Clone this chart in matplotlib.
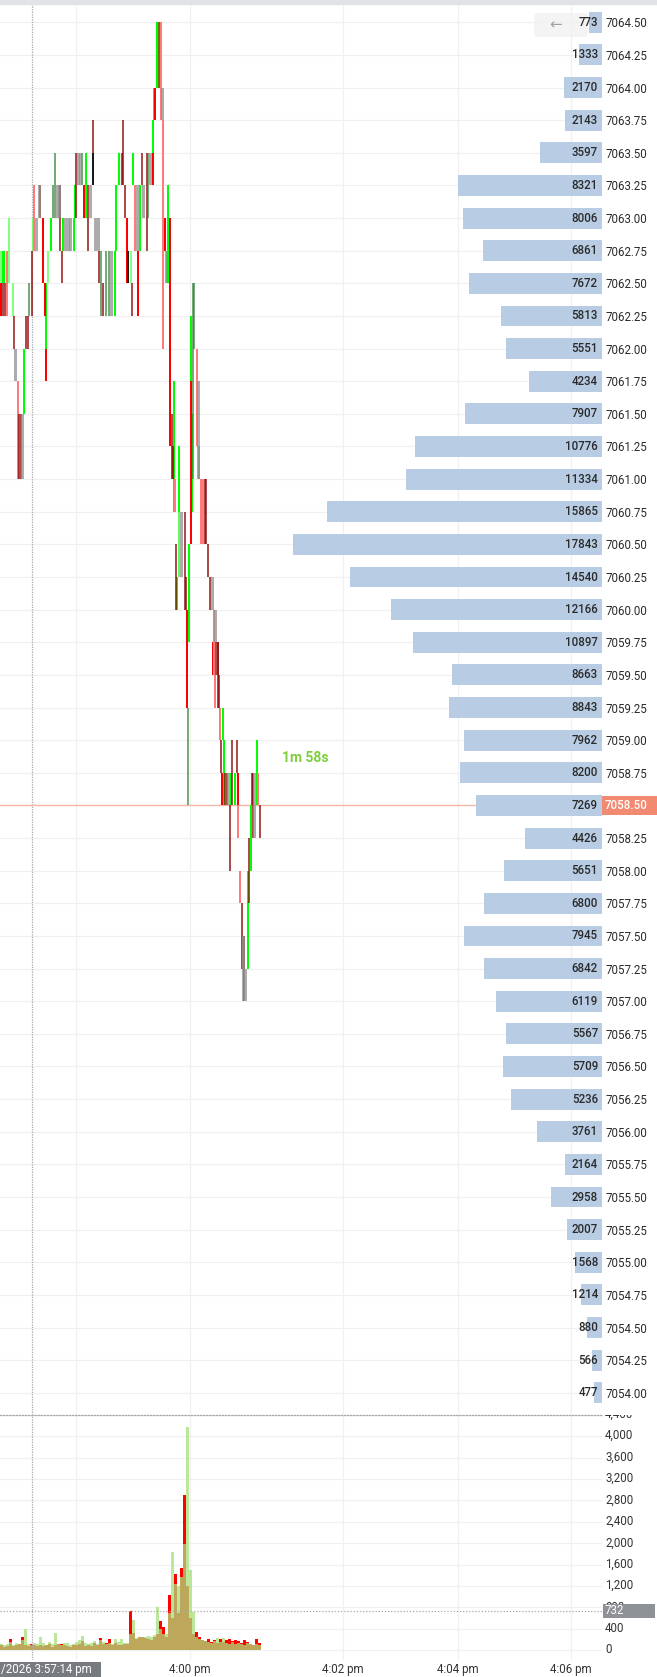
import numpy as np
import matplotlib
matplotlib.use('Agg')
import matplotlib.pyplot as plt
from matplotlib.patches import Rectangle, FancyBboxPatch
from matplotlib.transforms import blended_transform_factory

plt.rcParams['font.family'] = ['Roboto', 'DejaVu Sans']

W, H = 657, 1677          # output size in px
PLOT_R = 602              # right edge of the plotting area (px)

# price ladder (top -> bottom) and volume at price
levels = [7064.50 - 0.25 * i for i in range(43)]
level_vol = [773, 1333, 2170, 2143, 3597, 8321, 8006, 6861, 7672, 5813, 5551,
             4234, 7907, 10776, 11334, 15865, 17843, 14540, 12166, 10897, 8663,
             8843, 7962, 8200, 7269, 4426, 5651, 6800, 7945, 6842, 6119, 5567,
             5709, 5236, 3761, 2164, 2958, 2007, 1568, 1214, 880, 566, 477]
last_price = 7058.50
timer_text = '1m 58s'

# tick bars: x position (px along the time axis), low, high, colour kind
bar_x = [0.7, 0.7, 2.7, 2.7, 4.0, 5.3, 6.7, 9.3, 12.7, 14.0, 15.3, 17.7, 19.0, 21.0, 22.5,
         24.3, 26.0, 28.3, 29.3, 31.7, 33.3, 34.3, 36.0, 39.0, 40.0, 43.3, 45.0, 46.3, 46.3,
         48.3, 50.7, 53.3, 55.0, 57.0, 59.0, 60.0, 62.3, 63.3, 65.5, 68.0, 70.5, 74.0, 75.0,
         76.0, 78.0, 80.0, 81.5, 84.0, 86.0, 88.3, 90.0, 92.7, 93.3, 95.5, 98.0, 99.3,
         101.0, 103.3, 106.0, 109.0, 111.5, 115.0, 116.0, 119.3, 121.7, 122.7, 125.0, 126.7,
         128.3, 131.0, 132.0, 133.3, 135.0, 137.0, 138.3, 140.0, 141.7, 143.3, 146.7, 148.3,
         150.5, 152.7, 153.3, 154.3, 155.0, 156.7, 158.0, 159.3, 160.7, 162.7, 163.3, 165.0,
         166.7, 166.7, 168.3, 170.0,
         171.5, 172.7, 174.0, 175.0, 176.0, 176.7, 178.5, 179.3, 181.5, 185.0, 186.0, 187.3,
         188.0, 189.3, 190.7, 191.3, 191.7, 192.7, 194.0, 196.7, 198.3, 199.3, 200.5, 202.5,
         205.0, 206.0, 208.3, 210.0, 212.7, 213.3, 214.0, 215.0, 215.0, 216.0, 217.5, 218.3,
         219.0, 220.0,
         221.0, 222.0, 223.3, 224.3, 225.0, 226.7, 228.3, 230.0, 231.0, 232.3, 235.0, 236.7,
         237.7, 237.7, 240.0, 241.7, 243.0, 244.3, 245.7, 247.7, 249.0, 251.0, 251.7, 253.0,
         254.0, 256.7, 258.3, 260.0]
bar_lo = [7062.50, 7062.25, 7062.25, 7062.50, 7062.50, 7062.25, 7062.25, 7062.50, 7062.25,
          7062.00, 7061.75, 7061.00, 7061.00, 7061.00, 7061.00, 7061.50, 7062.00, 7062.00,
          7062.25, 7062.25, 7062.75, 7062.75, 7062.75, 7063.00, 7063.00, 7062.50, 7062.25,
          7062.00, 7061.75, 7062.50, 7062.75, 7063.00, 7063.00, 7063.00, 7063.00, 7062.75,
          7062.50, 7062.75, 7062.75, 7062.75, 7062.75, 7062.75, 7063.00, 7063.00, 7063.25,
          7063.25, 7063.25, 7063.00, 7063.00, 7062.75, 7063.00, 7063.25, 7063.25, 7062.75,
          7062.75, 7062.50,
          7062.25, 7062.25, 7062.25, 7062.25, 7062.25, 7062.25, 7062.75, 7063.25, 7063.25,
          7063.25, 7063.00, 7062.50, 7062.50, 7062.50, 7062.25, 7063.25, 7062.75, 7062.75,
          7062.25, 7062.75, 7063.25, 7063.00, 7062.75, 7063.00, 7063.25, 7063.50, 7063.25,
          7063.75, 7063.75, 7064.00, 7064.00, 7064.00, 7063.75, 7063.75, 7062.00, 7062.75,
          7062.50, 7062.50, 7062.50, 7061.25,
          7061.00, 7061.00, 7060.75, 7060.75, 7060.00, 7060.00, 7060.25, 7060.25, 7060.25,
          7060.00, 7060.00, 7059.25, 7058.50, 7059.75, 7061.25, 7060.50, 7060.75, 7061.00,
          7062.00, 7061.25, 7061.00, 7061.00, 7060.50, 7060.50, 7060.50, 7060.50, 7060.25,
          7060.00, 7060.00, 7059.50, 7059.50, 7059.25, 7059.75, 7059.50, 7059.50, 7059.25,
          7059.25, 7059.00,
          7058.75, 7058.50, 7059.00, 7058.50, 7058.50, 7058.50, 7058.50, 7058.00, 7058.50,
          7058.50, 7058.50, 7058.75, 7058.50, 7058.25, 7057.75, 7057.25, 7057.00, 7057.00,
          7057.00, 7057.25, 7057.75, 7058.00, 7058.50, 7058.25, 7058.25, 7058.50, 7058.50,
          7058.25]
bar_hi = [7062.75, 7062.50, 7062.50, 7062.75, 7062.75, 7062.50, 7062.75, 7063.00, 7062.50,
          7062.25, 7062.00, 7061.75, 7061.50, 7061.50, 7061.50, 7062.00, 7062.25, 7062.25,
          7062.50, 7062.75, 7063.00, 7063.25, 7063.00, 7063.25, 7063.25, 7063.00, 7062.50,
          7062.50, 7062.00, 7062.75, 7063.00, 7063.25, 7063.50, 7063.25, 7063.25, 7063.25,
          7062.75, 7063.00, 7063.00, 7063.00, 7063.00, 7063.00, 7063.25, 7063.50, 7063.50,
          7063.50, 7063.50, 7063.25, 7063.50, 7063.25, 7063.25, 7063.50, 7063.75, 7063.00,
          7063.00, 7062.75,
          7062.75, 7062.50, 7062.75, 7062.75, 7062.75, 7062.75, 7063.25, 7063.50, 7063.50,
          7063.75, 7063.25, 7063.00, 7062.75, 7062.75, 7062.50, 7063.50, 7063.25, 7063.25,
          7062.75, 7063.25, 7063.50, 7063.25, 7063.50, 7063.50, 7063.50, 7063.75, 7063.50,
          7064.00, 7064.00, 7064.50, 7064.50, 7064.50, 7064.50, 7064.00, 7063.75, 7063.00,
          7062.75, 7062.75, 7063.25, 7063.00,
          7061.50, 7061.25, 7061.75, 7061.00, 7060.50, 7060.25, 7060.75, 7061.25, 7060.75,
          7060.75, 7060.25, 7060.00, 7059.25, 7060.50, 7062.25, 7061.75, 7061.50, 7062.50,
          7062.50, 7062.00, 7061.75, 7061.25, 7061.00, 7061.00, 7061.00, 7061.00, 7060.50,
          7060.25, 7060.25, 7059.75, 7060.00, 7059.50, 7060.00, 7059.75, 7059.75, 7059.75,
          7059.50, 7059.25,
          7059.00, 7058.75, 7059.25, 7059.00, 7058.75, 7058.75, 7058.75, 7058.50, 7058.75,
          7059.00, 7058.75, 7059.00, 7058.75, 7058.50, 7058.00, 7057.75, 7057.50, 7057.50,
          7057.25, 7058.00, 7058.25, 7058.50, 7058.75, 7058.75, 7058.75, 7059.00, 7058.75,
          7058.50]
bar_kind = list('gRDGGDrggDSrDDSGDDdDgrSSDRRGRgGddSSDDGSSSGGDSSdRGDSKDSSD'
                'dDddSGGGDDDRKgDGrSRGDSDdSGRGRGSOrSrRSGGR'
                'DDGrDGgGSDDRdGGRGddrSdrrDDDDSRrrSDDDDr'
                'DRGGDDSDGDGDRrrDSDSGDGDDSGrD')

# volume pane: bar positions along the time axis and buy / sell volume
vol_x = [1.5 + 3 * i for i in range(87)]
vol_up = [120, 90, 110, 150, 100, 130, 110, 180, 385, 120,
          90, 140, 110, 250, 130, 100, 150, 120, 320, 110,
          100, 140, 130, 100, 120, 150, 180, 260, 140, 110,
          130, 160, 120, 180, 150, 110, 140, 120, 200, 150,
          205, 140, 130, 300, 560, 230, 250, 240, 250, 260,
          250, 280, 810, 400, 300, 300, 700, 1830, 1240, 1200,
          1370, 1990, 4180, 1500, 720, 250, 200, 180, 160, 150,
          140, 170, 220, 150, 220, 130, 120, 150, 110, 140,
          120, 100, 130, 110, 90, 120, 100]
vol_dn = [100, 60, 80, 200, 70, 90, 120, 250, 100, 80,
          110, 90, 70, 100, 80, 90, 110, 60, 100, 120,
          110, 90, 80, 60, 100, 90, 120, 160, 70, 90,
          80, 130, 100, 220, 110, 140, 200, 100, 130, 90,
          100, 120, 110, 730, 310, 200, 240, 250, 230, 200,
          180, 250, 300, 545, 435, 250, 1030, 600, 1420, 700,
          1530, 2900, 1200, 600, 300, 340, 250, 190, 170, 200,
          150, 190, 140, 200, 150, 180, 200, 170, 190, 160,
          140, 180, 150, 120, 100, 200, 130]
vol_ticks = list(range(0, 4401, 400))
cross_vol = 732

# time axis (the 3:58 pm label sits under the crosshair box)
time_pos = [76, 190, 343, 458, 571]
time_labels = ['', '4:00 pm', '4:02 pm', '4:04 pm', '4:06 pm']
cross_x = 31.7
cross_label = '/2026 3:57:14 pm'

kind_style = {
    'G': ('#00ff00', 1.0, 2.0), 'g': ('#6dff6d', 0.85, 2.0),
    'R': ('#ff0000', 1.0, 2.0), 'r': ('#ff7b7b', 1.0, 2.0),
    'D': ('#8b0000', 0.7, 2.0), 'd': ('#2e7d32', 0.65, 2.0),
    'S': ('#909090', 0.75, 3.0), 'K': ('#1a1a1a', 1.0, 2.0),
    'O': ('#7a6a10', 1.0, 2.0),
}
GRID = '#f0f0f0'
TXT = '#2a2a2a'
FS = 8.3


def rect(x0, y0, x1, y1):
    return [x0 / W, 1 - y1 / H, (x1 - x0) / W, (y1 - y0) / H]


fig = plt.figure(figsize=(W / 100, H / 100), dpi=100)
fig.patch.set_facecolor('white')
fig.patches.append(Rectangle((0, 1 - 4 / H), 1, 4 / H, transform=fig.transFigure,
                             color='#e1e3e6', zorder=3))

# ---------- price pane ----------
ax = fig.add_axes(rect(0, 4, PLOT_R, 1415))
ax.set_facecolor('none')
ax.set_xlim(0, PLOT_R)
ax.set_ylim(7053.83, 7064.64)
for s in ax.spines.values():
    s.set_visible(False)
ax.set_yticks(levels)
ax.set_yticklabels([f'{p:.2f}' for p in levels])
ax.yaxis.tick_right()
ax.tick_params(axis='y', length=0, pad=2.2, labelsize=FS, labelcolor=TXT)
ax.set_xticks(time_pos)
ax.tick_params(axis='x', length=0, labelbottom=False)
ax.grid(True, color=GRID, lw=0.9)
ax.set_axisbelow(True)

for k, (col, a, w) in kind_style.items():
    idx = [i for i, b in enumerate(bar_kind) if b == k]
    if not idx:
        continue
    xs = [bar_x[i] for i in idx]
    lo = np.array([bar_lo[i] for i in idx])
    hi = np.array([bar_hi[i] for i in idx])
    ax.bar(xs, hi - lo, bottom=lo, width=w, color=col, alpha=a, lw=0, zorder=2)

ax.axvline(cross_x, color='#a8a8a8', ls=(0, (1, 1)), lw=0.9, zorder=1)
ax.axhline(last_price, color='#f7b8a8', lw=1.0, zorder=1)
ax.text(305, 7058.86, timer_text, color='#7fcf3c', fontsize=10, fontweight='bold',
        ha='center', va='center')

# volume-at-price profile, scaled on its own reversed axis
axp = ax.twiny()
axp.set_xlim(PLOT_R / (309 / 17843), 0)
axp.axis('off')
axp.barh(levels, level_vol, height=0.16, color='#b8cce4', lw=0, zorder=2)
for p, v in zip(levels, level_vol):
    axp.text(598, p, str(v), transform=ax.transData, ha='right', va='center',
             fontsize=FS, color=TXT, fontweight='medium', zorder=3)

# last price tag on the price scale
tr = blended_transform_factory(ax.transAxes, ax.transData)
ax.add_patch(Rectangle((1.0, last_price - 0.07), (W - PLOT_R) / PLOT_R, 0.14,
                       transform=tr, fc='#f28a72', ec='none', clip_on=False, zorder=5))
ax.text(1.0 + 3 / PLOT_R, last_price, '7058.50', transform=tr, ha='left', va='center',
        fontsize=FS, color='white', fontweight='medium', zorder=6, clip_on=False)

# scroll-back button
fig.patches.append(FancyBboxPatch((534 / W, 1 - 37 / H), 54 / W, 24 / H,
                                  boxstyle='round,pad=0,rounding_size=0.004',
                                  transform=fig.transFigure, fc='#f4f4f4', ec='none',
                                  zorder=-1))
fig.text(556 / W, 1 - 25 / H, '\u2190', color='#a0a0a0', fontsize=11,
         ha='center', va='center')

# ---------- volume pane ----------
axv = fig.add_axes(rect(0, 1415, PLOT_R, 1660))
axv.set_xlim(0, PLOT_R)
vtop = 4384
axv.set_ylim(-187, vtop)
for n, s in axv.spines.items():
    s.set_visible(n == 'top')
axv.spines['top'].set_linestyle((0, (1, 1.5)))
axv.spines['top'].set_color('#a8a8a8')
axv.spines['top'].set_linewidth(0.9)
axv.set_yticks(vol_ticks)
axv.tick_params(axis='y', length=0, labelleft=False)
axv.set_xticks(time_pos, time_labels)
axv.tick_params(axis='x', length=0, pad=2.5, labelsize=FS, labelcolor='#333333')
axv.grid(True, color=GRID, lw=0.9)
axv.set_axisbelow(True)
axv.bar(vol_x, vol_dn, width=2.8, color='#ff0000', lw=0, zorder=2)
axv.bar(vol_x, vol_up, width=2.8, color='#a6e07a', alpha=0.75, lw=0, zorder=3)
axv.axvline(cross_x, color='#a8a8a8', ls=(0, (1, 1)), lw=0.9, zorder=4)
axv.axhline(cross_vol, color='#a8a8a8', ls=(0, (1, 1.5)), lw=0.9, zorder=4)

# volume scale labels (clipped at the pane top)
axl = fig.add_axes(rect(PLOT_R, 1415, W, 1660))
axl.set_xlim(0, W - PLOT_R)
axl.set_ylim(-187, vtop)
axl.axis('off')
for v in vol_ticks:
    axl.text(3, v, f'{v:,}', ha='left', va='center', fontsize=FS, color='#333333',
             clip_on=True)
axl.add_patch(Rectangle((0.5, cross_vol - 130), 52.5, 260, fc='#8e9297', ec='none',
                        zorder=4))
axl.text(3, cross_vol, str(cross_vol), ha='left', va='center', fontsize=FS,
         color='white', zorder=5)

# crosshair time label
fig.patches.append(Rectangle((0, 0), 101 / W, 15 / H, transform=fig.transFigure,
                             fc='#777a7f', ec='none', zorder=2))
fig.text(1 / W, 7.5 / H, cross_label, color='white', fontsize=FS,
         ha='left', va='center', zorder=3)

fig.savefig('out.png', dpi=100)
